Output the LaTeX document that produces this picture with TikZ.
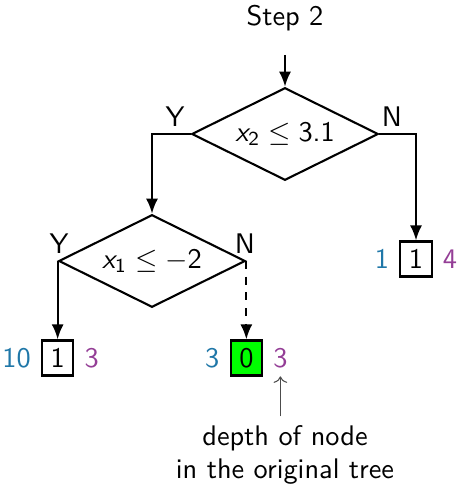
\documentclass[tikz,border=0pt]{standalone}
\usepackage{amsmath}
\renewcommand{\familydefault}{\sfdefault}
\usetikzlibrary{arrows.meta, positioning, shapes.geometric}
\definecolor{cntblue}{RGB}{31,119,168}
\definecolor{depthpurple}{RGB}{148,62,150}

\begin{document}
\begin{tikzpicture}[x=0.0134cm, y=-0.0134cm,
        every node/.append style={font=\fontsize{10.8}{12.5}\selectfont},
        test/.style={diamond, draw=black, thick, aspect=2,
                     minimum width=2.5cm, minimum height=1.24cm, inner sep=0pt},
        leaf/.style={rectangle, draw=black, thick,
                     minimum width=0.42cm, minimum height=0.47cm, inner sep=0pt},
        cnt/.style={text=cntblue, inner sep=0pt},
        dep/.style={text=depthpurple, inner sep=0pt},
        arrow/.style={-{Latex[length=2mm, width=1.6mm]}, thick},
    ]
    \useasboundingbox (0,0) rectangle (456,488);

    % step title
    \node (step) at (285,18) {Step 2};
    \coordinate (in) at (285,55);

    % tests
    \node[test] (t1) at (285,134) {$\textit{x}_{\text{2}} \leq \text{3.1}$};
    \node[test] (t2) at (152,261) {$\textit{x}_{\text{1}} \leq -\text{2}$};

    % Y / N
    \node (y1) at (175,117) {Y};
    \node (n1) at (392,117) {N};
    \node (y2) at (59,244) {Y};
    \node (n2) at (245,244) {N};

    % leaves
    \node[leaf] (l1) at (t2.west |- 0,358) {1};
    \node[leaf, fill=green] (l0) at (t2.east |- 0,358) {0};
    \node[leaf] (r1) at (416,259) {1};

    % counts (left) and depths (right)
    \node[cnt, left=0.13cm of l1] (c1) {10};
    \node[dep, right=0.13cm of l1] (d1) {3};
    \node[cnt, left=0.13cm of l0] (c0) {3};
    \node[dep, right=0.13cm of l0] (d0) {3};
    \node[cnt, left=0.13cm of r1] (cr) {1};
    \node[dep, right=0.13cm of r1] (dr) {4};

    % note
    \node[align=center] (note) at (285,455) {depth of node\\in the original tree};

    % arrows
    \draw[arrow] (in) -- (t1.north);
    \draw[arrow] (t1.west) -| (t2.north);
    \draw[arrow] (t1.east) -| (r1.north);
    \draw[arrow] (t2.west) -- (l1.north);
    \draw[arrow, dashed] (t2.east) -- (l0.north);
    \draw[->, thin, black!70, shorten >=3pt] (note.north -| d0.south) -- (d0.south);

\end{tikzpicture}
\end{document}
